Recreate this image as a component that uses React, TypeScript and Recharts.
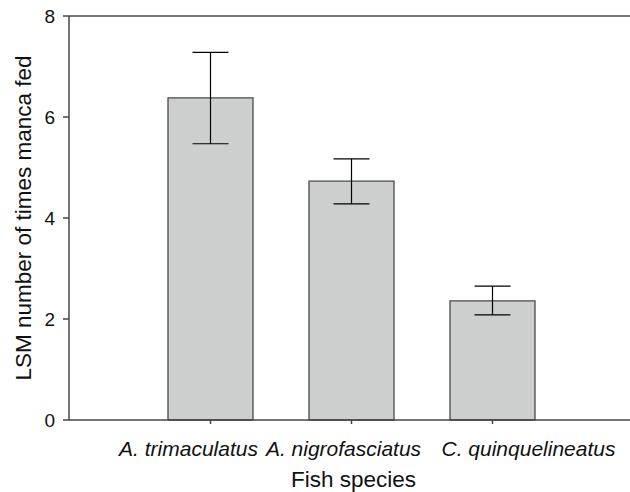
import React from 'react';
import { BarChart, Bar, XAxis, YAxis, ErrorBar, ReferenceLine } from 'recharts';

const species = ['A. trimaculatus', 'A. nigrofasciatus', 'C. quinquelineatus'];
const lsmMeans = [6.38, 4.73, 2.36];
const errLower = [5.47, 4.28, 2.08];
const errUpper = [7.28, 5.17, 2.65];
const yTicks = [0, 2, 4, 6, 8];

const data = species.map((name, i) => ({
    name,
    value: lsmMeans[i],
    err: [lsmMeans[i] - errLower[i], errUpper[i] - lsmMeans[i]],
}));

const FONT = '"Liberation Sans", Arial, sans-serif';
const AXIS = '#474747';

// the species names sit side by side like one line of text, not centred on ticks
const labelShift = [-22, -8, 36];

const SpeciesTick = (props: any) => {
    const { x, y, payload, index } = props;
    return (
        <text x={x + labelShift[index]} y={y} dy={30} textAnchor="middle"
            fontFamily={FONT} fontSize={21} fontStyle="italic" fill="#111">
            {payload.value}
        </text>
    );
};

export default function App() {
    return (
        <div style={{ position: 'absolute', left: 0, top: 0, width: 630, height: 492, background: '#fff' }}>
            <BarChart width={630} height={492} data={data}
                margin={{ top: 16, right: 0, left: 0, bottom: 0 }} barSize={85}>
                <XAxis
                    dataKey="name"
                    height={72}
                    padding={{ left: 71, right: 67 }}
                    stroke={AXIS}
                    strokeWidth={1.5}
                    tickSize={4}
                    tick={<SpeciesTick />}
                    interval={0}
                    label={{
                        content: (p: any) => {
                            const vb = p.viewBox;
                            return (
                                <text x={vb.x + vb.width / 2 + 4} y={vb.y + 67} textAnchor="middle"
                                    fontFamily={FONT} fontSize={22.5} fill="#111">Fish species</text>
                            );
                        },
                    }}
                />
                <YAxis
                    width={69}
                    domain={[0, 8]}
                    ticks={yTicks}
                    stroke={AXIS}
                    strokeWidth={1.5}
                    tickSize={6}
                    tickMargin={8}
                    tick={{ fontFamily: FONT, fontSize: 19, fill: '#111' }}
                    label={{
                        content: (p: any) => {
                            const vb = p.viewBox;
                            const cx = vb.x + 31;
                            const cy = vb.y + vb.height / 2;
                            return (
                                <text x={cx} y={cy} textAnchor="middle" transform={`rotate(-90, ${cx}, ${cy})`}
                                    fontFamily={FONT} fontSize={22.5} fill="#111">LSM number of times manca fed</text>
                            );
                        },
                    }}
                />
                <ReferenceLine y={8} stroke={AXIS} strokeWidth={1.5} />
                <Bar dataKey="value" fill="#cdcfce" stroke="#4a4a4a" strokeWidth={1.3} isAnimationActive={false}>
                    <ErrorBar dataKey="err" width={18} stroke="#000" strokeWidth={1.2} direction="y" />
                </Bar>
            </BarChart>
        </div>
    );
}
